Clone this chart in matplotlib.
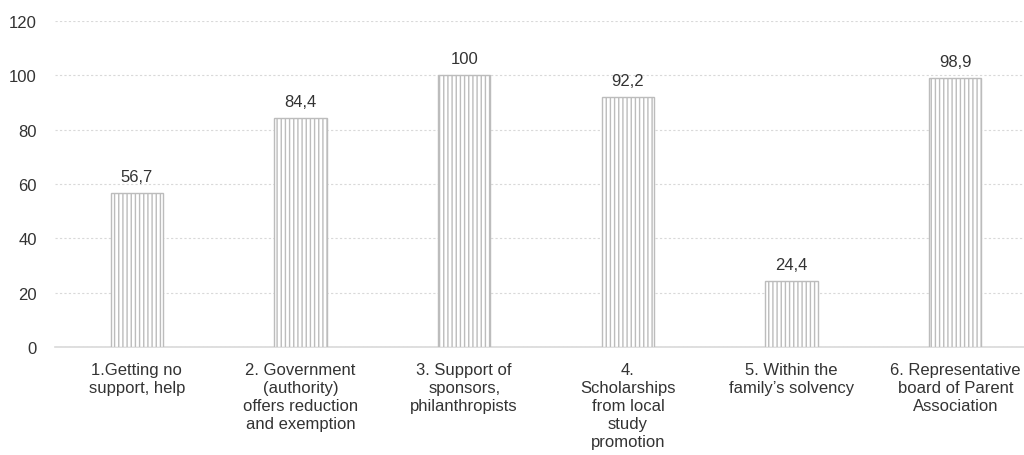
import matplotlib.pyplot as plt
import matplotlib as mpl

plt.rcParams['font.family'] = ['Liberation Sans', 'DejaVu Sans']
mpl.rcParams['hatch.color'] = '#b8b8b8'
mpl.rcParams['hatch.linewidth'] = 1.0

# categorias y porcentajes
categorias = [
    "1.Getting no\nsupport, help",
    "2. Government\n(authority)\noffers reduction\nand exemption",
    "3. Support of\nsponsors,\nphilanthropists",
    "4.\nScholarships\nfrom local\nstudy\npromotion",
    "5. Within the\nfamily\u2019s solvency",
    "6. Representative\nboard of Parent\nAssociation",
]
valores = [56.7, 84.4, 100, 92.2, 24.4, 98.9]
ticks_y = [0, 20, 40, 60, 80, 100, 120]

texto = '#333333'

fig = plt.figure(figsize=(10.24, 4.56), dpi=100)
ax = fig.add_axes([55/1024, 108/456, 969/1024, 326/456])

x = list(range(len(valores)))
barras = ax.bar(x, valores, width=0.32, color='white', edgecolor='#bcbcbc',
                hatch='||||', linewidth=1.0, zorder=3)

# etiquetas de valor con coma decimal
for xi, v in zip(x, valores):
    etiqueta = f"{v:g}".replace('.', ',')
    ax.text(xi, v + 3.3, etiqueta, ha='center', va='bottom',
            fontsize=12, color=texto)

ax.set_xlim(-0.5, 5.42)
ax.set_ylim(0, 120)
ax.set_yticks(ticks_y)
ax.set_yticklabels([str(t) for t in ticks_y], fontsize=12, color=texto)
ax.set_xticks(x)
ax.set_xticklabels(categorias, fontsize=12, color=texto, linespacing=1.25,
                   va='top')

ax.tick_params(axis='both', length=0)
ax.tick_params(axis='y', pad=13)
ax.tick_params(axis='x', pad=11)

ax.grid(axis='y', color='#d9d9d9', linestyle=(0, (2, 2)), linewidth=0.8, zorder=0)
for lado in ['top', 'right', 'left']:
    ax.spines[lado].set_visible(False)
ax.spines['bottom'].set_color('#d9d9d9')
ax.spines['bottom'].set_linewidth(1.2)

fig.savefig('out.png', dpi=100)
